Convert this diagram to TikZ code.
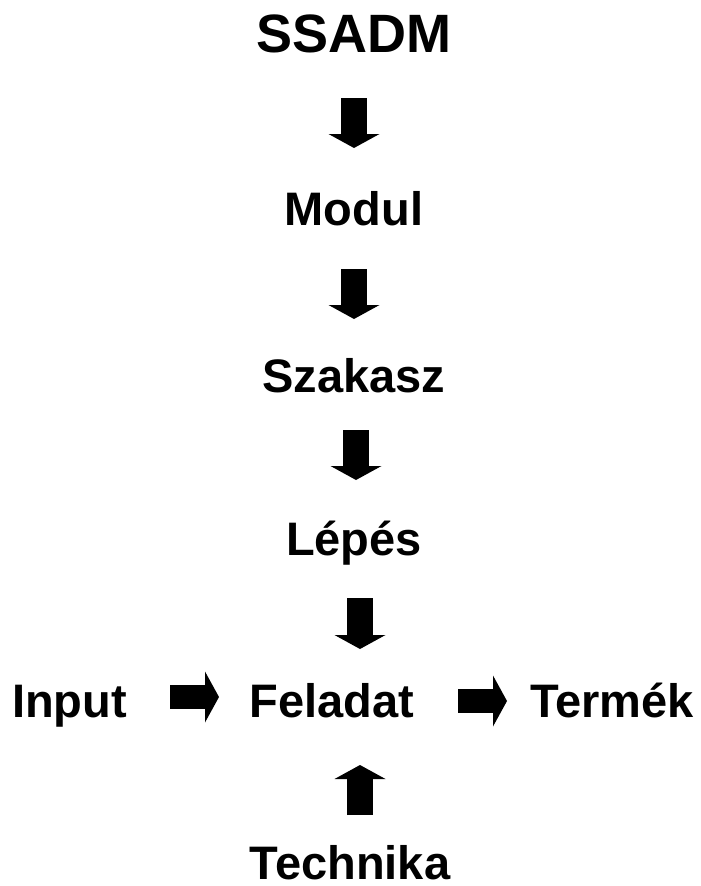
\documentclass[tikz,border=0pt]{standalone}
\usepackage{fontspec}
\setmainfont{Liberation Sans}
\usetikzlibrary{arrows.meta}
\begin{document}
\begin{tikzpicture}[x=1pt,y=-1pt,
  label/.style={font=\fontsize{47}{47}\selectfont\bfseries, inner sep=0pt, anchor=base},
  title/.style={font=\fontsize{54}{54}\selectfont\bfseries, inner sep=0pt, anchor=base},
  blockarrow/.style={line width=26pt, line cap=butt,
    -{Triangle[length=14pt,width=51pt,line width=0pt]}}]
  \useasboundingbox (0,0) rectangle (701,886);

  % level labels
  \node[title] (ssadm) at (354,52) {SSADM};
  \node[label] (modul) at (354,225) {Modul};
  \node[label] (szakasz) at (354,392) {Szakasz};
  \node[label] (lepes) at (354,555) {Lépés};
  \node[label] (feladat) at (332,717) {Feladat};
  \node[label, anchor=base west] (input) at (12,717) {Input};
  \node[label, anchor=base east] (termek) at (694,717) {Termék};
  \node[label] (technika) at (350,879) {Technika};

  % arrow end points
  \coordinate (a1s) at (354,98);  \coordinate (a1e) at (354,148);
  \coordinate (a2s) at (354,269); \coordinate (a2e) at (354,319);
  \coordinate (a3s) at (356,430); \coordinate (a3e) at (356,480);
  \coordinate (a4s) at (360,598); \coordinate (a4e) at (360,649);
  \coordinate (a5s) at (360,815); \coordinate (a5e) at (360,765);
  \coordinate (a6s) at (170,697); \coordinate (a6e) at (219,697);
  \coordinate (a7s) at (458,701); \coordinate (a7e) at (507,701);

  % hierarchy arrows
  \draw[blockarrow] (a1s) -- (a1e);
  \draw[blockarrow] (a2s) -- (a2e);
  \draw[blockarrow] (a3s) -- (a3e);
  \draw[blockarrow] (a4s) -- (a4e);
  \draw[blockarrow] (a5s) -- (a5e);
  \draw[blockarrow, line width=24pt] (a6s) -- (a6e);
  \draw[blockarrow, line width=24pt] (a7s) -- (a7e);
\end{tikzpicture}
\end{document}
